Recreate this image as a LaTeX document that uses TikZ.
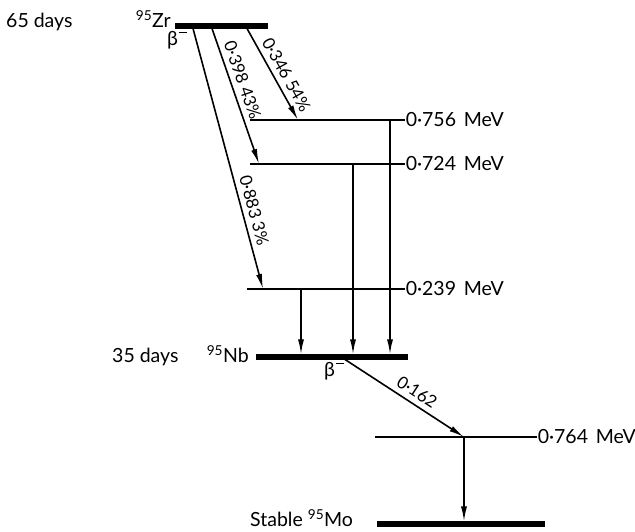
\documentclass[tikz,border=0pt]{standalone}
\usepackage{fontspec}
\setmainfont{Lato}
\usepackage{tikz}
\usetikzlibrary{arrows.meta, positioning}
\newcommand{\iso}[2]{\textsuperscript{#1}#2}
\newcommand{\bminus}{β\kern0.5pt\rule[0.66em]{0.42em}{1.4pt}}
\newcommand{\mev}[1]{#1\hspace{0.4em}MeV}

\begin{document}
\begin{tikzpicture}[x=1pt, y=1pt,
    lvl/.style={line width=1.6pt},
    ground/.style={line width=5.5pt},
    decay/.style={line width=1.6pt, -{Latex[length=15pt, width=6pt]}},
    big/.style={font=\fontsize{19.5}{23}\selectfont, inner sep=0pt},
    small/.style={font=\fontsize{17}{20}\selectfont, inner sep=0pt, sloped}]
    \useasboundingbox (0,0) rectangle (635,532);

    % Ground states
    \draw[ground] (175,506) -- (268,506);
    \draw[ground] (256,175) -- (408,175);
    \draw[ground] (377,8) -- (545,8);
    \node[big, anchor=base west] (zrdays) at (6,504) {65 days};
    \node[big, anchor=base east] (zr) at (171,504) {\iso{95}{Zr}};
    \node[big, anchor=base west] (zrbeta) at (167,486) {\bminus};
    \node[big, anchor=base west] (nbdays) at (112,169) {35 days};
    \node[big, anchor=base east] (nb) at (249,169) {\iso{95}{Nb}};
    \node[big, anchor=base west] (nbbeta) at (324,155) {\bminus};
    \node[big, anchor=base west] (mo) at (250,5) {Stable \iso{95}{Mo}};

    % Excited levels
    \draw[lvl] (250,412) -- (405,412) node[big, anchor=west] (l756) {\mev{0·756}};
    \draw[lvl] (250,368) -- (405,368) node[big, anchor=west] (l724) {\mev{0·724}};
    \draw[lvl] (247,243) -- (405,243) node[big, anchor=west] (l239) {\mev{0·239}};
    \draw[lvl] (375,95) -- (537,95) node[big, anchor=west] (l764) {\mev{0·764}};

    % Beta branches
    \coordinate (zrA) at (193,503.5);
    \coordinate (zrB) at (212,503.5);
    \coordinate (zrC) at (247,503.5);
    \coordinate (eA) at (263,243);
    \coordinate (eB) at (259,368);
    \coordinate (eC) at (298,412);
    \draw[decay] (zrA) -- node[small, pos=0.71, above=5pt] (t883) {0·883 3\%} (eA);
    \draw[decay] (zrB) -- node[small, pos=0.41, above=5pt] (t398) {0·398 43\%} (eB);
    \draw[decay] (zrC) -- node[small, pos=0.57, above=5pt] (t346) {0·346 54\%} (eC);

    % Gamma transitions
    \coordinate (gA) at (301,243);
    \coordinate (gB) at (353,368);
    \coordinate (gC) at (390,412);
    \draw[decay] (gA) -- (gA |- 0,177.5);
    \draw[decay] (gB) -- (gB |- 0,177.5);
    \draw[decay] (gC) -- (gC |- 0,177.5);

    % Nb decay
    \coordinate (nbA) at (345,172.5);
    \coordinate (e764) at (464,95);
    \draw[decay] (nbA) -- node[small, pos=0.55, above=5pt] (t162) {0·162} (e764);
    \draw[decay] (e764) -- (e764 |- 0,10.5);
\end{tikzpicture}
\end{document}
